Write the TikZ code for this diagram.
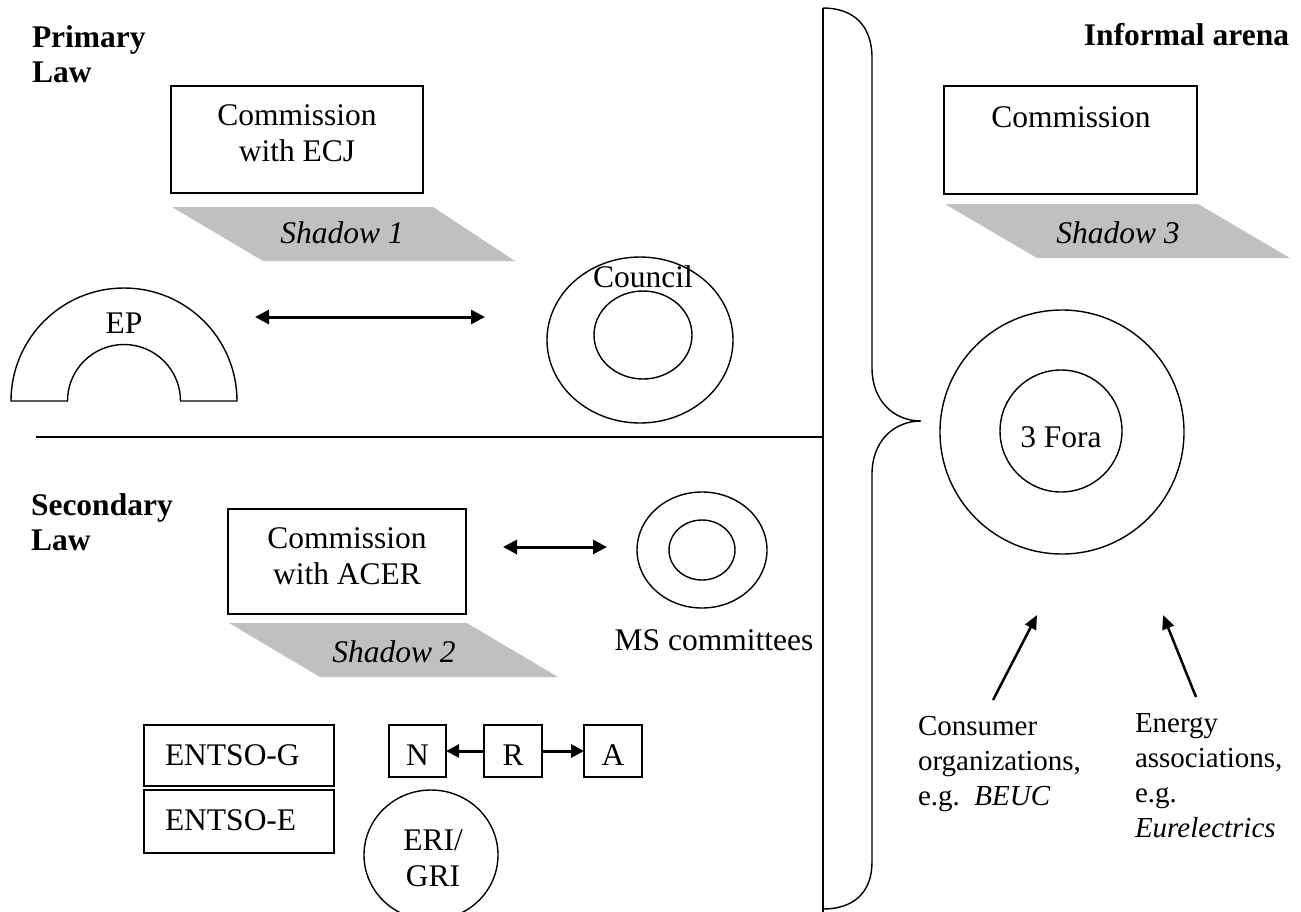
\documentclass[tikz,border=0pt]{standalone}
\usepackage{fontspec}
\setmainfont{Liberation Serif}
\usetikzlibrary{arrows.meta,shapes.geometric}
\definecolor{shadowgray}{HTML}{C0C0C0}
\newcommand\ml[2][c]{\begin{tabular}[t]{@{}#1@{}}#2\end{tabular}}
\begin{document}
\begin{tikzpicture}[x=1pt,y=-1pt,
  every node/.style={inner sep=0pt, outer sep=0pt},
  txt/.style={font=\fontsize{31.5}{36}\selectfont},
  smalltxt/.style={font=\fontsize{29}{35}\selectfont},
  head/.style={font=\fontsize{31.5}{35}\selectfont\bfseries},
  box/.style={draw, line width=1.6pt},
  ring/.style={draw, line width=1.4pt, ellipse},
  shadowshape/.style={fill=shadowgray},
  biarrow/.style={line width=3pt, {Triangle[length=14pt,width=14pt]}-{Triangle[length=14pt,width=14pt]}},
  onearrow/.style={line width=2.5pt, -{Triangle[length=14pt,width=12pt]}},
  plain/.style={line width=1.4pt}
]
\useasboundingbox (0,0) rectangle (1301,911);

% headings
\node[head, anchor=base west] (prim) at (32,47) {\ml[l]{Primary\\Law}};
\node[head, anchor=base west] (sec) at (31,515) {\ml[l]{Secondary\\Law}};
\node[head, anchor=base east] (inf) at (1289,45) {Informal arena};

% primary law
\node[box, minimum width=252pt, minimum height=107pt] (ecj) at (297,139.5) {};
\node[txt, anchor=base] (ecjt) at (297,125) {\ml{Commission\\with ECJ}};
\fill[shadowshape] (172,207) -- (433,207) -- (515,261) -- (263,261) -- cycle;
\node[txt, anchor=base] (sh1) at (342,243) {\itshape Shadow 1};

\draw[plain] (11,401) arc[start angle=180, end angle=360, radius=113]
  -- (180.5,401) arc[start angle=0, end angle=-180, radius=56.5] -- cycle;
\node[txt, anchor=base] (ep) at (124,333) {EP};

\node[ring, minimum width=186pt, minimum height=166pt] (council) at (640,340) {};
\node[ring, minimum width=98pt, minimum height=88pt] (councilin) at (643,335) {};
\node[txt, anchor=base] (councilt) at (643,287) {Council};

\coordinate (a1) at (255,317);
\coordinate (a2) at (485,317);
\draw[biarrow] (a1) -- (a2);

% separators
\coordinate (hl) at (36,437);
\coordinate (vt) at (823,8);
\coordinate (vb) at (823,915);
\draw[plain] (hl) -- (vt |- hl);
\draw[plain] (vt) -- (vb);
\draw[plain] (823,8) .. controls (853,8) and (872,25) .. (872,58) -- (872,368)
  .. controls (872,400) and (893,421) .. (921,421)
  .. controls (893,421) and (872,442) .. (872,474) -- (872,862)
  .. controls (872,893) and (853,909) .. (823,909);

% secondary law
\node[box, minimum width=238pt, minimum height=105pt] (acer) at (347,561.5) {};
\node[txt, anchor=base] (acert) at (347,548) {\ml{Commission\\with ACER}};
\fill[shadowshape] (229,623) -- (467,623) -- (558,677) -- (320,677) -- cycle;
\node[txt, anchor=base] (sh2) at (394,662) {\itshape Shadow 2};

\node[ring, minimum width=130pt, minimum height=116pt] (ms) at (702,550) {};
\node[ring, minimum width=66pt, minimum height=60pt] (msin) at (702,550) {};
\node[txt, anchor=base] (mst) at (714,650) {MS committees};
\coordinate (b1) at (503,547);
\coordinate (b2) at (607,547);
\draw[biarrow] (b1) -- (b2);

\node[box, minimum width=190pt, minimum height=61pt] (eg) at (239,755.5) {};
\node[box, minimum width=190pt, minimum height=63pt] (ee) at (239,821.5) {};
\node[txt, anchor=base west] (egt) at (165,765) {ENTSO-G};
\node[txt, anchor=base west] (eet) at (165,830) {ENTSO-E};

\node[box, minimum width=57pt, minimum height=52pt] (n) at (417.5,751) {};
\node[box, minimum width=58pt, minimum height=52pt] (r) at (513,751) {};
\node[box, minimum width=58pt, minimum height=52pt] (a) at (613,751) {};
\node[txt, anchor=base] (nt) at (417.5,765) {N};
\node[txt, anchor=base] (rt) at (513,765) {R};
\node[txt, anchor=base] (at) at (613,765) {A};
\draw[line width=3pt, -{Triangle[length=13pt,width=13pt]}] (r.west) -- (n.east);
\draw[line width=3pt, -{Triangle[length=13pt,width=13pt]}] (r.east) -- (a.west);

\node[ring, minimum width=134pt, minimum height=130pt] (eri) at (431,855) {};
\node[txt, anchor=base] (erit) at (433,850) {\ml{ERI/\\GRI}};

% informal arena
\node[box, minimum width=253pt, minimum height=108pt] (com3) at (1070.5,140) {};
\node[txt, anchor=base] (com3t) at (1071,127) {Commission};
\fill[shadowshape] (945,204) -- (1198,204) -- (1290,258) -- (1037,258) -- cycle;
\node[txt, anchor=base] (sh3) at (1118,243) {\itshape Shadow 3};

\node[ring, circle, minimum size=244pt] (fora) at (1062,432) {};
\node[ring, circle, minimum size=122pt] (forain) at (1061,431) {};
\node[txt, anchor=base] (forat) at (1061,447) {3 Fora};

\coordinate (c1) at (993,700);
\coordinate (c2) at (1037,615);
\coordinate (d1) at (1196,697);
\coordinate (d2) at (1163,615);
\draw[onearrow] (c1) -- (c2);
\draw[onearrow] (d1) -- (d2);
\node[smalltxt, anchor=base west] (cons) at (918,735) {\ml[l]{Consumer\\organizations,\\e.g.\ \ \textit{BEUC}}};
\node[smalltxt, anchor=base west] (ener) at (1135,732) {\ml[l]{Energy\\associations,\\e.g.\\\textit{Eurelectrics}}};
\end{tikzpicture}
\end{document}
